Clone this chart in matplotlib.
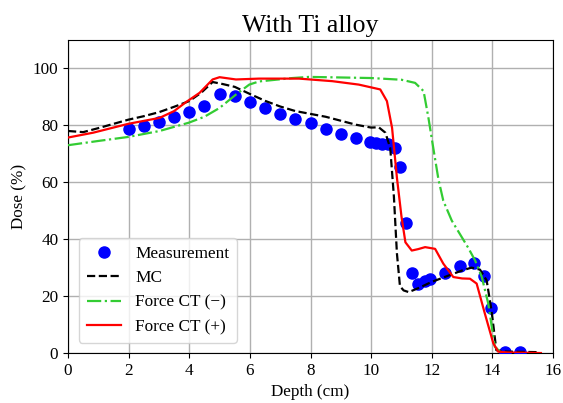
import matplotlib
matplotlib.use("Agg")
import matplotlib.pyplot as plt

plt.rcParams['font.family'] = ['Liberation Serif', 'DejaVu Serif']
plt.rcParams['mathtext.fontset'] = 'stix'

meas_x = [2.0, 2.5, 3.0, 3.5, 4.0, 4.5, 5.0, 5.5, 6.0, 6.5, 7.0, 7.5, 8.0, 8.5, 9.0, 9.5,
          9.95, 10.15, 10.35, 10.57, 10.78, 10.96, 11.15, 11.34, 11.54, 11.76, 11.95,
          12.42, 12.93, 13.4, 13.71, 13.97, 14.43, 14.9]
meas_y = [78.7, 79.8, 81.2, 82.9, 84.7, 86.9, 91.1, 90.3, 88.3, 86.2, 84.1, 82.3, 80.9, 78.8,
          77.0, 75.4, 74.2, 73.8, 73.5, 73.3, 72.2, 65.5, 45.8, 28.0, 24.2, 25.2, 26.0,
          28.2, 30.4, 31.8, 27.2, 15.8, 0.3, 0.3]

mc_x = [0.0, 0.5, 1.0, 1.5, 2.0, 2.5, 3.0, 3.5, 4.0, 4.4, 4.77, 5.1, 5.5, 6.0, 6.5, 7.0, 7.5,
        8.0, 8.5, 9.0, 9.5, 10.0, 10.25, 10.47, 10.63, 10.75, 10.85, 10.95, 11.07, 11.24,
        11.6, 12.0, 12.5, 13.0, 13.31, 13.59, 13.81, 13.97, 14.13, 14.4, 15.0, 15.56]
mc_y = [78.0, 77.6, 79.0, 80.5, 82.0, 83.2, 84.6, 86.5, 88.5, 91.5, 95.2, 94.5, 93.5, 91.0,
        88.6, 86.6, 85.0, 84.0, 83.0, 81.6, 80.2, 79.2, 79.3, 77.4, 72.0, 55.0, 35.0, 23.5,
        22.0, 21.4, 23.0, 25.0, 27.0, 29.0, 30.0, 29.3, 25.5, 15.0, 1.0, 0.5, 0.4, 0.3]

fm_x = [0.0, 1.0, 1.98, 3.02, 3.98, 4.5, 5.0, 5.54, 5.98, 6.3, 7.4, 7.95, 9.0, 10.0, 11.0,
        11.45, 11.73, 11.89, 12.05, 12.22, 12.38, 12.66, 12.99, 13.2, 13.43, 13.65, 13.86,
        14.08, 14.3]
fm_y = [73.0, 74.5, 75.9, 78.0, 80.9, 83.0, 86.1, 90.8, 94.3, 95.4, 96.6, 97.0, 96.8, 96.6,
        96.0, 94.9, 92.0, 82.6, 72.0, 61.0, 53.5, 46.5, 40.7, 37.0, 32.5, 26.7, 17.5, 2.2, 0.0]

fp_x = [0.0, 0.83, 1.98, 3.02, 3.5, 3.9, 4.34, 4.77, 5.0, 5.54, 6.3, 7.62, 8.72, 9.59, 10.3,
        10.52, 10.69, 10.85, 11.0, 11.13, 11.34, 11.55, 11.78, 12.11, 12.38, 12.71, 13.0,
        13.26, 13.48, 13.75, 14.03, 14.19, 14.5, 15.6]
fp_y = [75.7, 77.4, 80.5, 82.6, 85.0, 88.2, 91.4, 96.1, 96.9, 96.1, 96.4, 96.4, 95.5, 94.3,
        92.6, 88.5, 79.1, 61.6, 48.0, 38.9, 36.0, 36.5, 37.2, 36.6, 31.4, 26.7, 26.2, 26.1,
        24.4, 13.9, 3.4, 0.5, 0.2, 0.0]

fig = plt.figure(figsize=(5.63, 4.03), dpi=100)
ax = fig.add_axes([0.1208, 0.124, 0.8615, 0.777])

ax.grid(True, color='#b0b0b0', linewidth=1.0)
ax.set_axisbelow(True)

ax.plot(meas_x, meas_y, 'o', color='#0000ff', markersize=8, linestyle='none', label='Measurement', zorder=3)
ax.plot(mc_x, mc_y, '--', color='black', linewidth=1.6, label='MC', zorder=4)
ax.plot(fm_x, fm_y, '-.', color='#33cc33', linewidth=1.6, label='Force CT (\u2212)', zorder=4)
ax.plot(fp_x, fp_y, '-', color='#ff0000', linewidth=1.6, label='Force CT (+)', zorder=4)

ax.set_xlim(0, 16)
ax.set_ylim(0, 110)
ax.set_xticks(range(0, 17, 2))
ax.set_yticks(range(0, 101, 20))
ax.tick_params(labelsize=12.3)
ax.set_xlabel('Depth (cm)', fontsize=12.3)
ax.set_ylabel('Dose (%)', fontsize=12.3)
ax.set_title('With Ti alloy', fontsize=18.5)
for s in ax.spines.values():
    s.set_color('black')

ax.legend(loc='lower left', fontsize=12.4, handlelength=2.0, borderpad=0.45, labelspacing=0.48,
          numpoints=1, bbox_to_anchor=(0.005, 0.005))

fig.savefig('out.png', dpi=100)
